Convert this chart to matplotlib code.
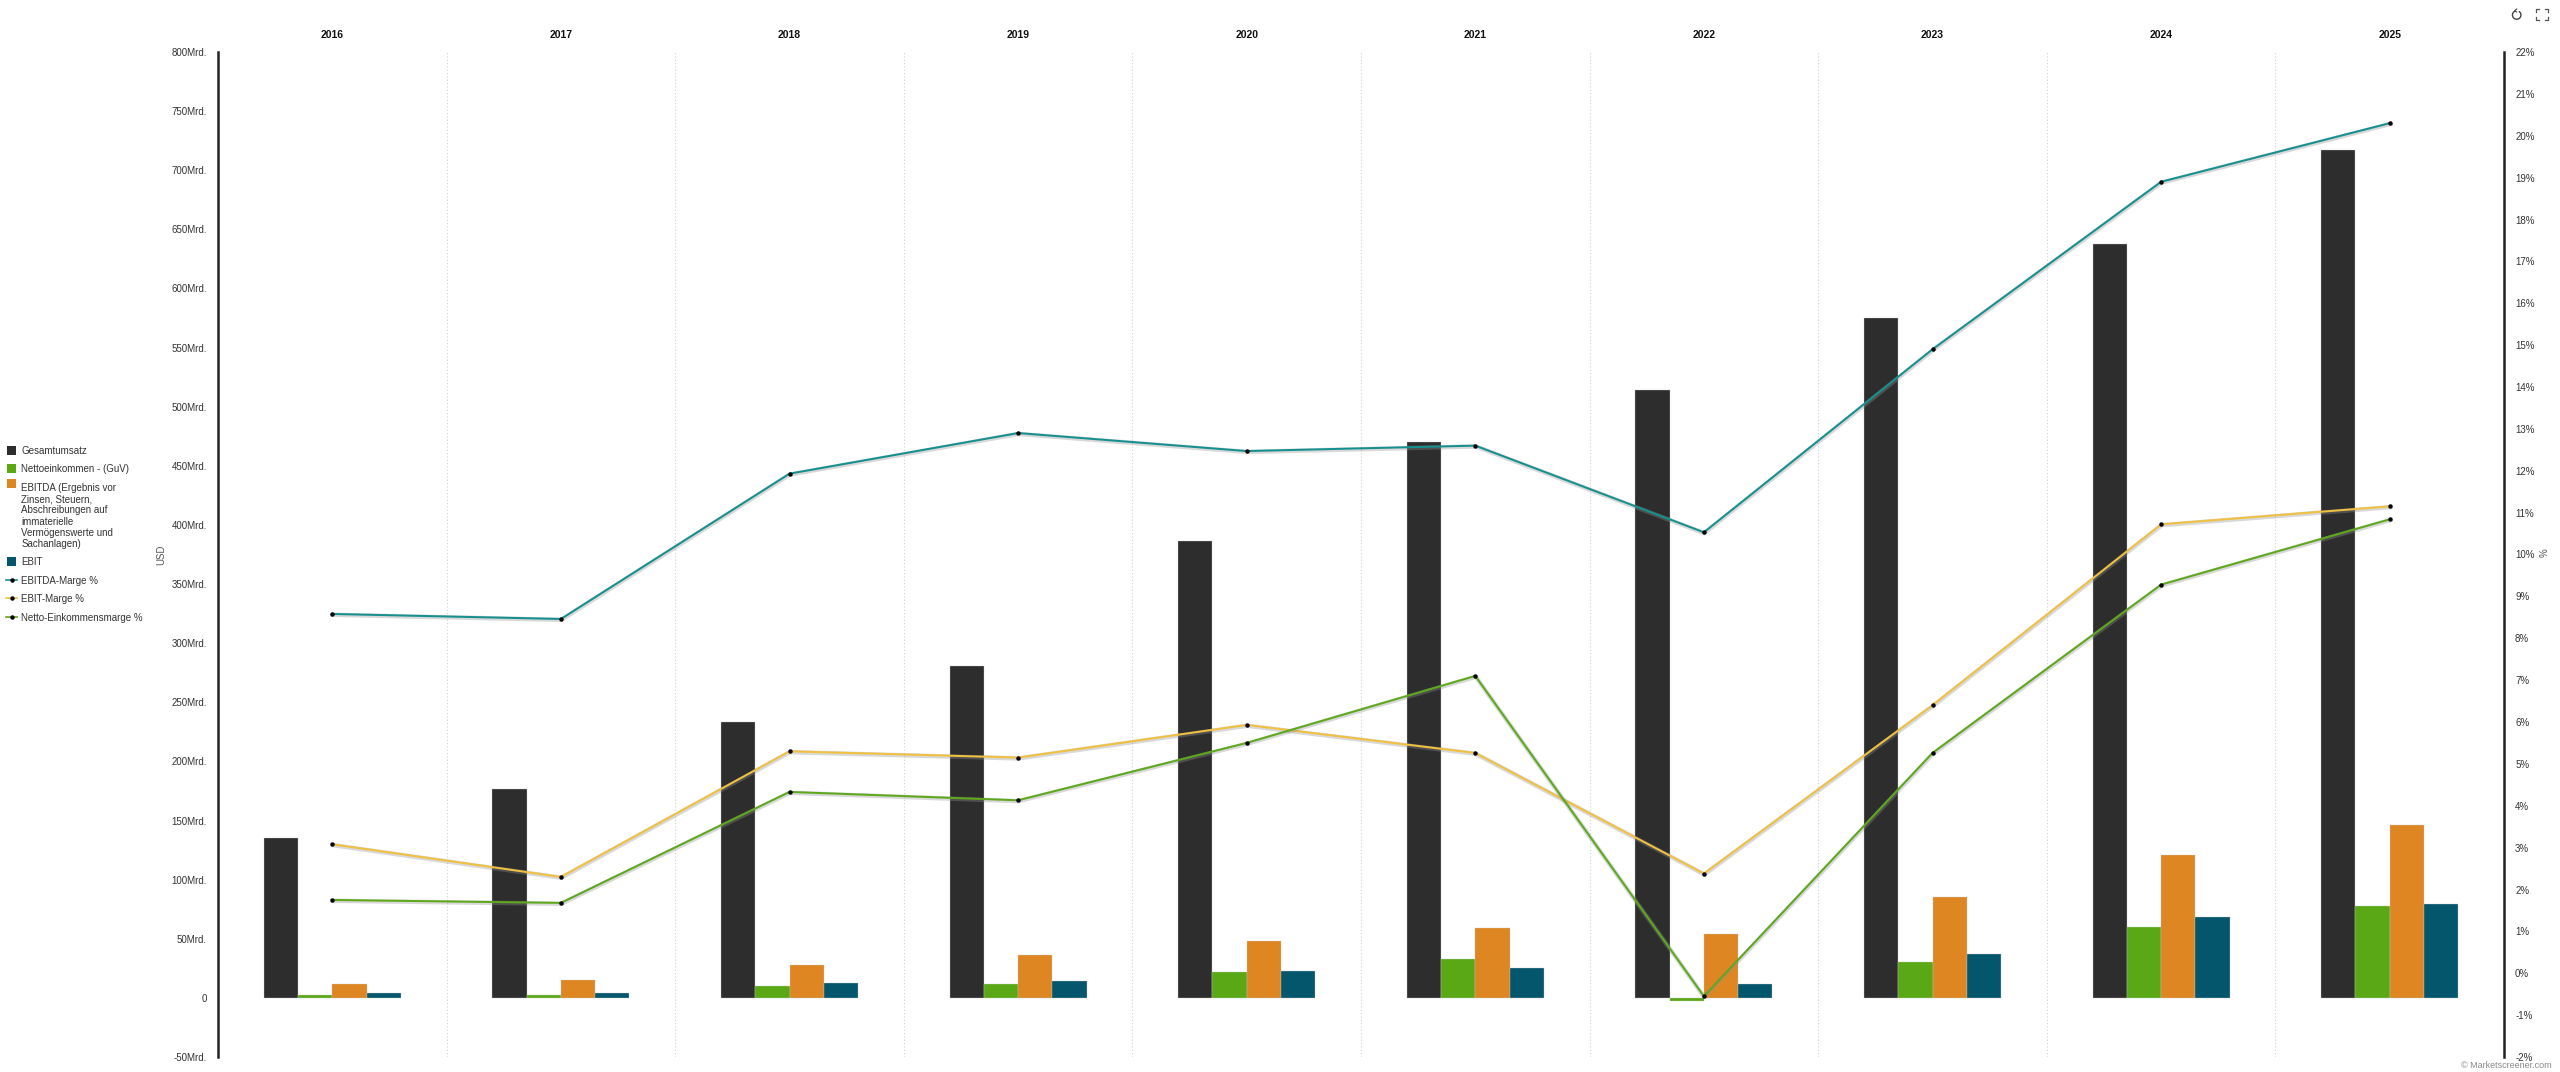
import matplotlib
matplotlib.use("Agg")
import matplotlib.pyplot as plt
import matplotlib.patheffects as pe
from matplotlib.legend_handler import HandlerPatch
from matplotlib.patches import Rectangle, Arc
from matplotlib.lines import Line2D
from matplotlib.ticker import FuncFormatter
import numpy as np

plt.rcParams['font.family'] = ['Liberation Sans', 'DejaVu Sans']

years = ['2016', '2017', '2018', '2019', '2020', '2021', '2022', '2023', '2024', '2025']
revenue = [135, 177, 233, 281, 386, 470, 514, 575, 638, 717]
net_income = [2.3, 2.5, 10, 12, 21.5, 33, -3, 30.5, 60, 78]
ebitda = [11.5, 15, 28, 36, 48, 59, 54, 85, 121, 146]
ebit = [4.2, 4, 12.5, 14.5, 23, 25, 12, 37, 68, 79]
ebitda_margin = [8.58, 8.46, 11.93, 12.9, 12.47, 12.6, 10.53, 14.9, 18.9, 20.3]
ebit_margin = [3.08, 2.3, 5.3, 5.15, 5.93, 5.26, 2.38, 6.4, 10.72, 11.15]
net_margin = [1.75, 1.68, 4.33, 4.13, 5.5, 7.1, -0.55, 5.26, 9.28, 10.84]

bar_series = [
    ('Gesamtumsatz', revenue, '#2d2d2d'),
    ('Nettoeinkommen - (GuV)', net_income, '#5aa815'),
    ('EBITDA (Ergebnis vor\nZinsen, Steuern,\nAbschreibungen auf\nimmaterielle\nVermögenswerte und\nSachanlagen)', ebitda, '#de8622'),
    ('EBIT', ebit, '#04566c'),
]
line_series = [
    ('EBITDA-Marge %', ebitda_margin, '#16908f'),
    ('EBIT-Marge %', ebit_margin, '#f0c040'),
    ('Netto-Einkommensmarge %', net_margin, '#5ea81c'),
]

W, H = 2560, 1072
L, R, T, B = 218, 2504, 52, 1057
FS = 7.0
fig = plt.figure(figsize=(W / 100, H / 100), dpi=100, facecolor='white')
ax = fig.add_axes([L / W, 1 - B / H, (R - L) / W, (B - T) / H])
ax2 = ax.twinx()
ax.set_zorder(1)
ax2.set_zorder(2)
ax2.patch.set_visible(False)

x = np.arange(len(years))
bw = 0.15
handles = []
for i, (name, vals, col) in enumerate(bar_series):
    ax.bar(x + (i - 1.5) * bw, vals, bw, color=col, edgecolor='#c8c8c8', linewidth=0.25,
           label=name, zorder=3)
    handles.append(Rectangle((0, 0), 1, 1, facecolor=col, label=name))

for name, vals, col in line_series:
    ax2.plot(x, vals, color=col, lw=1.45, zorder=4, solid_joinstyle='round',
             path_effects=[pe.Stroke(linewidth=3.2, foreground='#909090', alpha=0.35, offset=(0.3, -0.6)),
                           pe.Normal()])
    ax2.plot(x, vals, ls='none', marker='o', ms=3.2, mew=0, color='black', zorder=5)
    handles.append(Line2D([], [], color=col, lw=1.2, marker='o', ms=3.2, mew=0,
                          markerfacecolor='black', label=name))

ax.set_xlim(-0.5, len(years) - 0.5)
ax.set_ylim(-50, 800)
ax2.set_ylim(-2, 22)
ax.set_yticks(np.arange(-50, 801, 50))
ax2.set_yticks(np.arange(-2, 23, 1))
ax.yaxis.set_major_formatter(FuncFormatter(lambda v, _: '0' if v == 0 else f'{int(v)}Mrd.'))
ax2.yaxis.set_major_formatter(FuncFormatter(lambda v, _: f'{int(v)}%'))
ax.tick_params(axis='y', length=0, pad=8, labelsize=FS, labelcolor='#333333')
ax2.tick_params(axis='y', length=0, pad=8, labelsize=FS, labelcolor='#333333')

ax.set_xticks(x)
ax.set_xticklabels(years, fontweight='bold', fontsize=7.5, color='#111111')
ax.tick_params(axis='x', length=0, bottom=False, labelbottom=False, top=False, labeltop=True, pad=8.7)
ax.set_xticks(np.arange(-0.5, len(years), 1)[1:-1], minor=True)
ax.tick_params(axis='x', which='minor', length=0)
ax.grid(True, which='minor', axis='x', color='#d0d0d0', lw=0.8, ls=(0, (1, 2)), zorder=0)
ax.set_axisbelow(True)

for a in (ax, ax2):
    for s in a.spines.values():
        s.set_visible(False)
ax.spines['left'].set_visible(True)
ax.spines['left'].set_linewidth(1.8)
ax.spines['left'].set_color('#222222')
ax2.spines['right'].set_visible(True)
ax2.spines['right'].set_linewidth(1.8)
ax2.spines['right'].set_color('#222222')

fig.text(161 / W, 1 - 555 / H, 'USD', rotation=90, ha='center', va='center', fontsize=FS, color='#555555')
fig.text(2545 / W, 1 - 553 / H, '%', rotation=90, ha='center', va='center', fontsize=FS, color='#555555')
fig.text(2552 / W, 1 - 1065 / H, '© Marketscreener.com', ha='right', va='center', fontsize=6.5, color='#8a8a8a')


class TopSquare(HandlerPatch):
    def create_artists(self, legend, orig, xd, yd, w, h, fs, trans):
        n = orig.get_label().count('\n')
        side = 6.5
        offs = n * 4.75
        p = Rectangle((xd + (w - side) / 2, -yd + offs), side, side,
                      facecolor=orig.get_facecolor(), edgecolor='none', transform=trans)
        return [p]


leg = fig.legend(handles=handles, loc='upper left', bbox_to_anchor=(6 / W, 1 - 446 / H),
                 frameon=False, fontsize=FS, labelcolor='#333333', handlelength=1.15,
                 handleheight=1.0, handletextpad=0.42, labelspacing=0.87, borderaxespad=0,
                 borderpad=0, alignment='left',
                 handler_map={Rectangle: TopSquare()})
for t in leg.get_texts():
    t.set_linespacing(1.15)

# toolbar icons in the top right corner
ov = fig.add_axes([0, 0, 1, 1], facecolor='none')
ov.set_xlim(0, W)
ov.set_ylim(H, 0)
ov.axis('off')
ov.add_patch(Arc((2516.7, 15), 8.5, 8.5, theta1=-60, theta2=250, color='#444444', lw=1))
ov.plot([2516.7, 2514.7, 2516.7], [9, 10.7, 12], color='#444444', lw=0.8)
for cx, cy, dx, dy in [(2536, 9, 1, 1), (2548, 9, -1, 1), (2536, 20, 1, -1), (2548, 20, -1, -1)]:
    ov.plot([cx + 3 * dx, cx, cx], [cy, cy, cy + 3 * dy], color='#555555', lw=0.9)

fig.savefig('out.png', dpi=100)
